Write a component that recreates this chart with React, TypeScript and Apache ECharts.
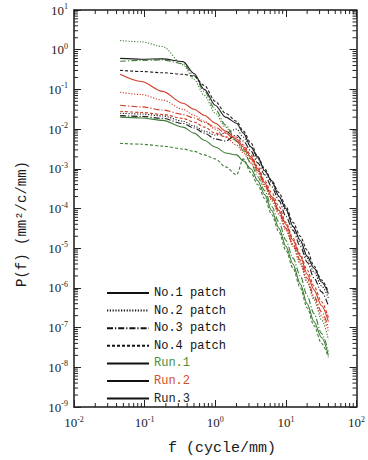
import React, { useEffect, useRef } from "react";
import * as echarts from "echarts";

// frequency samples (cycle/mm)
const freq = [0.045, 0.09, 0.18, 0.35, 0.5, 0.7, 1.0, 1.4, 2.0, 2.5, 3.2, 4.0, 5.0, 6.3, 8.0, 10, 12.6, 16, 20, 25, 32, 40];

const patchNames = ["No.1 patch", "No.2 patch", "No.3 patch", "No.4 patch"];
const runNames = ["Run.1", "Run.2", "Run.3"];

// P(f) values, patch x run
const p2r1 = [1.70, 1.58, 1.20, 0.417, 0.178, 0.0708, 0.0251, 0.0112, 5.01e-3, 3.16e-3, 1.78e-3, 8.91e-4, 3.98e-4, 2.0e-4, 8.91e-5, 3.16e-5, 1.26e-5, 4.47e-6, 1.41e-6, 5.01e-7, 1.58e-7, 5.01e-8];
const p1r3 = [0.603, 0.575, 0.589, 0.501, 0.251, 0.1, 0.0398, 0.02, 0.0141, 7.94e-3, 3.55e-3, 2.0e-3, 8.91e-4, 5.01e-4, 2.0e-4, 1.0e-4, 3.55e-5, 1.58e-5, 6.31e-6, 3.16e-6, 1.41e-6, 7.08e-7];
const p3r1 = [0.513, 0.537, 0.55, 0.447, 0.224, 0.0891, 0.0316, 0.0126, 5.01e-3, 2.82e-3, 1.41e-3, 6.31e-4, 2.82e-4, 1.12e-4, 4.47e-5, 1.58e-5, 5.62e-6, 2.0e-6, 6.31e-7, 2.24e-7, 7.08e-8, 2.51e-8];
const p4r3 = [0.302, 0.282, 0.263, 0.24, 0.214, 0.126, 0.0501, 0.0251, 0.0158, 8.91e-3, 4.47e-3, 2.0e-3, 1.0e-3, 5.01e-4, 2.51e-4, 1.12e-4, 4.47e-5, 2.0e-5, 8.91e-6, 3.55e-6, 1.58e-6, 7.94e-7];
const p1r2 = [0.24, 0.158, 0.0891, 0.0447, 0.0316, 0.0224, 0.0141, 8.91e-3, 5.62e-3, 3.55e-3, 2.0e-3, 1.0e-3, 4.47e-4, 2.0e-4, 8.91e-5, 3.98e-5, 1.58e-5, 6.31e-6, 2.24e-6, 8.91e-7, 3.55e-7, 1.41e-7];
const p2r2 = [0.0851, 0.0741, 0.0537, 0.0316, 0.0224, 0.0158, 0.01, 6.31e-3, 3.98e-3, 2.51e-3, 1.41e-3, 7.94e-4, 3.55e-4, 1.58e-4, 7.08e-5, 2.82e-5, 1.12e-5, 3.98e-6, 1.41e-6, 5.62e-7, 2.0e-7, 7.94e-8];
const p3r2 = [0.0398, 0.0363, 0.0302, 0.0234, 0.0191, 0.0148, 0.0112, 7.94e-3, 5.01e-3, 3.16e-3, 1.78e-3, 8.91e-4, 3.98e-4, 1.78e-4, 7.94e-5, 3.16e-5, 1.26e-5, 5.01e-6, 1.78e-6, 6.31e-7, 2.51e-7, 1.0e-7];
const p4r2 = [0.0282, 0.0263, 0.0234, 0.0186, 0.0151, 0.0112, 7.94e-3, 6.31e-3, 6.31e-3, 3.98e-3, 2.24e-3, 1.12e-3, 5.01e-4, 2.51e-4, 1.12e-4, 4.47e-5, 1.78e-5, 7.08e-6, 2.82e-6, 1.12e-6, 4.47e-7, 1.78e-7];
const p2r3 = [0.0251, 0.024, 0.0214, 0.0158, 0.012, 8.91e-3, 7.08e-3, 7.94e-3, 0.01, 6.31e-3, 3.55e-3, 1.78e-3, 8.91e-4, 4.47e-4, 2.0e-4, 8.91e-5, 3.55e-5, 1.41e-5, 5.62e-6, 2.51e-6, 1.12e-6, 5.62e-7];
const p3r3 = [0.0219, 0.0209, 0.0186, 0.0138, 0.0107, 7.94e-3, 5.62e-3, 5.01e-3, 7.08e-3, 5.01e-3, 2.82e-3, 1.41e-3, 7.08e-4, 3.55e-4, 1.58e-4, 6.31e-5, 2.82e-5, 1.12e-5, 4.47e-6, 1.78e-6, 7.94e-7, 3.55e-7];
const p1r1 = [0.02, 0.0191, 0.0166, 0.0112, 7.94e-3, 5.25e-3, 3.55e-3, 2.51e-3, 2.24e-3, 1.58e-3, 1.0e-3, 5.01e-4, 2.24e-4, 8.91e-5, 3.16e-5, 1.12e-5, 3.98e-6, 1.26e-6, 3.98e-7, 1.41e-7, 5.62e-8, 2.0e-8];
const p4r1 = [4.37e-3, 4.17e-3, 3.72e-3, 3.16e-3, 2.75e-3, 2.24e-3, 1.78e-3, 1.12e-3, 7.08e-4, 1.78e-3, 7.94e-4, 3.98e-4, 1.78e-4, 7.08e-5, 2.51e-5, 8.91e-6, 3.16e-6, 1.0e-6, 3.16e-7, 1.12e-7, 3.98e-8, 1.78e-8];

const curves = [
  { patch: 0, run: 0, values: p1r1 },
  { patch: 1, run: 0, values: p2r1 },
  { patch: 2, run: 0, values: p3r1 },
  { patch: 3, run: 0, values: p4r1 },
  { patch: 0, run: 1, values: p1r2 },
  { patch: 1, run: 1, values: p2r2 },
  { patch: 2, run: 1, values: p3r2 },
  { patch: 3, run: 1, values: p4r2 },
  { patch: 0, run: 2, values: p1r3 },
  { patch: 1, run: 2, values: p2r3 },
  { patch: 2, run: 2, values: p3r3 },
  { patch: 3, run: 2, values: p4r3 },
];

const runColors = ["#3f7d36", "#cf3a24", "#1e1e1e"];
const runTextColors = ["#4a9040", "#d4502a", "#222"];
const patchDash: any[] = ["solid", [1.2, 1.6], [6, 2, 1.2, 2], [3, 2]];

const MONO = "'Liberation Mono', 'DejaVu Sans Mono', monospace";
const SERIF = "'Liberation Serif', 'DejaVu Serif', serif";

function supLabel(v: number) {
  const e = Math.round(Math.log10(v));
  return "{b|10}{s|" + e + "}";
}

export default function App() {
  const ref = useRef<HTMLDivElement>(null);
  useEffect(() => {
    if (!ref.current) return;
    const chart = echarts.init(ref.current, null, { renderer: "svg" });

    // minor tick positions (axis decoration)
    const tickData: number[][] = [];
    for (let d = -2; d < 2; d++) for (let m = 2; m <= 9; m++) tickData.push([m * Math.pow(10, d), 1e-9, 0]);
    for (let d = -9; d < 1; d++) for (let m = 2; m <= 9; m++) tickData.push([0.01, m * Math.pow(10, d), 1]);

    const richLabel = {
      b: { fontSize: 13, fontFamily: SERIF, color: "#222" },
      s: { fontSize: 8, fontFamily: SERIF, color: "#222", padding: [0, 0, 7, 0] },
    };

    const dataSeries = curves.map((c, i) => ({
      type: "line",
      name: "c" + i,
      xAxisIndex: 0,
      yAxisIndex: 0,
      data: freq.map((f, k) => [f, c.values[k]]),
      symbol: "none",
      smooth: 0.3,
      smoothMonotone: "x",
      lineStyle: { color: runColors[c.run], width: 1.1, type: patchDash[c.patch] },
      z: 3,
    }));

    const legendSeries = [
      ...patchNames.map((n, i) => ({
        type: "line",
        name: n,
        data: [],
        symbol: "none",
        itemStyle: { opacity: 0 },
        lineStyle: { color: "#111", width: 1.2, type: patchDash[i] },
      })),
      ...runNames.map((n) => ({
        type: "line",
        name: n,
        data: [],
        symbol: "none",
        itemStyle: { opacity: 0 },
        lineStyle: { color: "#111", width: 1.4, type: "solid" },
      })),
    ];

    const tickSeries = {
      type: "custom",
      xAxisIndex: 0,
      yAxisIndex: 0,
      silent: true,
      clip: false,
      encode: { x: 0, y: 1 },
      data: tickData,
      renderItem: (params: any, api: any) => {
        const kind = api.value(2);
        const st = { stroke: "#222", lineWidth: 1 };
        if (kind === 0) {
          const xv = api.value(0);
          const pb = api.coord([xv, 1e-9]);
          const pt = api.coord([xv, 10]);
          return {
            type: "group",
            children: [
              { type: "line", shape: { x1: pb[0], y1: pb[1], x2: pb[0], y2: pb[1] - 4 }, style: st },
              { type: "line", shape: { x1: pt[0], y1: pt[1], x2: pt[0], y2: pt[1] + 4 }, style: st },
            ],
          };
        }
        const yv = api.value(1);
        const pl = api.coord([0.01, yv]);
        const pr = api.coord([100, yv]);
        return {
          type: "group",
          children: [
            { type: "line", shape: { x1: pl[0], y1: pl[1], x2: pl[0] + 4, y2: pl[1] }, style: st },
            { type: "line", shape: { x1: pr[0], y1: pr[1], x2: pr[0] - 4, y2: pr[1] }, style: st },
          ],
        };
      },
      z: 5,
    };

    const axisLineStyle = { color: "#1a1a1a", width: 1.5 };

    chart.setOption({
      animation: false,
      backgroundColor: "#fff",
      grid: { left: 74, right: 10, top: 10, bottom: 53 },
      legend: {
        orient: "vertical",
        left: 101,
        top: 282,
        itemWidth: 42,
        itemHeight: 14,
        itemGap: 5.6,
        selectedMode: false,
        itemStyle: { opacity: 0 },
        textStyle: { fontFamily: MONO, fontSize: 12, color: "#111" },
        data: [
          ...patchNames.map((n) => ({ name: n })),
          ...runNames.map((n, i) => ({ name: n, textStyle: { color: runTextColors[i] } })),
        ],
      },
      xAxis: [
        {
          type: "log",
          logBase: 10,
          min: 0.01,
          max: 100,
          interval: 1,
          position: "bottom",
          axisLine: { lineStyle: axisLineStyle },
          axisTick: { inside: true, length: 7, lineStyle: { color: "#222" } },
          splitLine: { show: false },
          axisLabel: { formatter: supLabel, rich: richLabel, margin: 8 },
        },
        {
          type: "log",
          logBase: 10,
          min: 0.01,
          max: 100,
          interval: 1,
          position: "top",
          axisLine: { lineStyle: axisLineStyle },
          axisTick: { inside: true, length: 7, lineStyle: { color: "#222" } },
          splitLine: { show: false },
          axisLabel: { show: false },
        },
      ],
      yAxis: [
        {
          type: "log",
          logBase: 10,
          min: 1e-9,
          max: 10,
          interval: 1,
          position: "left",
          axisLine: { lineStyle: axisLineStyle },
          axisTick: { inside: true, length: 7, lineStyle: { color: "#222" } },
          splitLine: { show: false },
          axisLabel: { formatter: supLabel, rich: richLabel, margin: 6 },
        },
        {
          type: "log",
          logBase: 10,
          min: 1e-9,
          max: 10,
          interval: 1,
          position: "right",
          axisLine: { lineStyle: axisLineStyle },
          axisTick: { inside: true, length: 7, lineStyle: { color: "#222" } },
          splitLine: { show: false },
          axisLabel: { show: false },
        },
      ],
      graphic: [
        {
          type: "text",
          x: 222,
          y: 448,
          style: {
            text: "f (cycle/mm)",
            fontFamily: MONO,
            fontSize: 15,
            fill: "#1a1a1a",
            align: "center",
            verticalAlign: "middle",
            textAlign: "center",
            textVerticalAlign: "middle",
          },
        },
        {
          type: "text",
          x: 22,
          y: 224,
          rotation: Math.PI / 2,
          style: {
            text: "P(f) (mm²/c/mm)",
            fontFamily: MONO,
            fontSize: 14,
            fill: "#1a1a1a",
            align: "center",
            verticalAlign: "middle",
            textAlign: "center",
            textVerticalAlign: "middle",
          },
        },
      ],
      series: [...dataSeries, ...legendSeries, tickSeries],
    });
    return () => chart.dispose();
  }, []);
  return <div ref={ref} style={{ position: "fixed", left: 0, top: 0, width: 368, height: 460 }} />;
}
